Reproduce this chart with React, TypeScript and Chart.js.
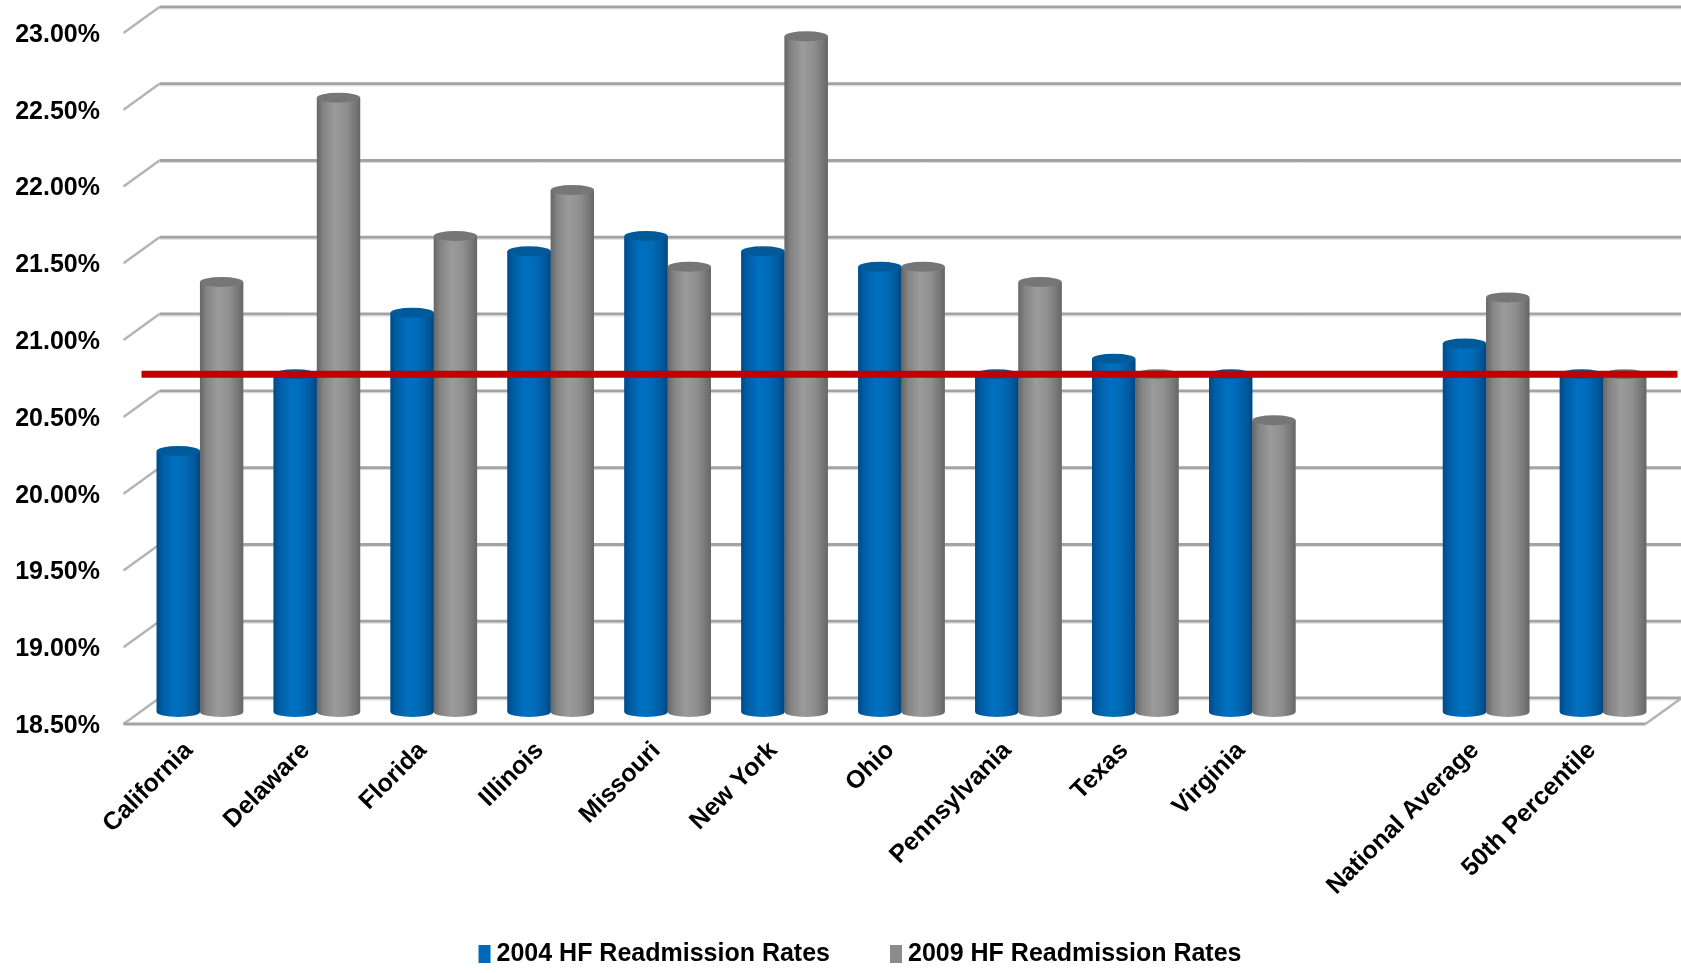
import { useEffect, useRef } from 'react';
import { Chart, registerables } from 'chart.js';

Chart.register(...registerables);

const categories = [
  'California', 'Delaware', 'Florida', 'Illinois', 'Missouri', 'New York', 'Ohio',
  'Pennsylvania', 'Texas', 'Virginia', '', 'National Average', '50th Percentile',
];
const rates2004 = [20.2, 20.7, 21.1, 21.5, 21.6, 21.5, 21.4, 20.7, 20.8, 20.7, null, 20.9, 20.7];
const rates2009 = [21.3, 22.5, 21.6, 21.9, 21.4, 22.9, 21.4, 21.3, 20.7, 20.4, null, 21.2, 20.7];
const seriesLabels = ['2004 HF Readmission Rates', '2009 HF Readmission Rates'];
const seriesColors = ['#0068b4', '#8c8c8c'];
const Y_MIN = 18.5;
const Y_MAX = 23;
const Y_STEP = 0.5;
const referenceLine = 20.7;

const FONT = '"Liberation Sans", Arial, Helvetica, sans-serif';
const W = 1681;
const H = 973;

// 3D offsets relative to the bar plane
const BACK_DX = 18;
const BACK_DY = -14;
const FRONT_DX = -18;
const FRONT_DY = 12;

const wallPlugin = {
  id: 'wall',
  beforeDatasetsDraw(chart: any) {
    const { ctx, chartArea } = chart;
    const ys = chart.scales.y;
    ctx.save();
    ys.ticks.forEach((t: any) => {
      const yb = ys.getPixelForValue(t.value) + BACK_DY;
      const yf = ys.getPixelForValue(t.value) + FRONT_DY;
      const xb = chartArea.left + BACK_DX;
      const xf = chartArea.left + FRONT_DX;
      ctx.strokeStyle = '#a3a3a3';
      ctx.lineWidth = 3;
      ctx.beginPath();
      ctx.moveTo(xb, yb);
      ctx.lineTo(W, yb);
      ctx.stroke();
      ctx.strokeStyle = '#dcdcdc';
      ctx.lineWidth = 1;
      ctx.beginPath();
      ctx.moveTo(xb, yb + 2);
      ctx.lineTo(W, yb + 2);
      ctx.stroke();
      ctx.strokeStyle = '#b4b4b4';
      ctx.lineWidth = 2.5;
      ctx.beginPath();
      ctx.moveTo(xb, yb);
      ctx.lineTo(xf, yf);
      ctx.stroke();
    });
    const base = ys.getPixelForValue(Y_MIN);
    const yb = base + BACK_DY;
    const yf = base + FRONT_DY;
    const xfl = chartArea.left + FRONT_DX;
    const xfr = chartArea.right + FRONT_DX + 2;
    const xbr = chartArea.right + BACK_DX + 2;
    ctx.strokeStyle = '#a3a3a3';
    ctx.lineWidth = 3;
    ctx.beginPath();
    ctx.moveTo(xfl, yf);
    ctx.lineTo(xfr, yf);
    ctx.stroke();
    ctx.strokeStyle = '#b4b4b4';
    ctx.lineWidth = 2.5;
    ctx.beginPath();
    ctx.moveTo(xfr, yf);
    ctx.lineTo(xbr, yb);
    ctx.stroke();
    ctx.restore();
  },
};

const gradStops: Array<Array<[number, string]>> = [
  [[0, '#004a86'], [0.12, '#005ca2'], [0.4, '#0070c0'], [0.62, '#006cb9'], [0.86, '#005a9e'], [1, '#004680']],
  [[0, '#666666'], [0.15, '#848484'], [0.42, '#9b9b9b'], [0.68, '#8f8f8f'], [0.88, '#777777'], [1, '#666666']],
];
const topColors = ['#005a99', '#767676'];

const cylinderPlugin = {
  id: 'cylinders',
  afterDatasetsDraw(chart: any) {
    const { ctx, chartArea } = chart;
    const ys = chart.scales.y;
    const bottom = ys.getPixelForValue(Y_MIN);
    ctx.save();
    chart.data.datasets.forEach((ds: any, di: number) => {
      const meta = chart.getDatasetMeta(di);
      meta.data.forEach((el: any, i: number) => {
        if (ds.data[i] == null) return;
        if (!Number.isFinite(el.y) || !Number.isFinite(el.x)) return;
        const w = el.width;
        const xl = el.x - w / 2;
        const top = el.y;
        const base = Math.min(el.base, bottom);
        const ry = 5;
        const g = ctx.createLinearGradient(xl, 0, xl + w, 0);
        gradStops[di].forEach(([o, c]) => g.addColorStop(o, c));
        ctx.fillStyle = g;
        ctx.beginPath();
        ctx.moveTo(xl, top);
        ctx.lineTo(xl, base);
        ctx.ellipse(el.x, base, w / 2, ry, 0, Math.PI, 0, true);
        ctx.lineTo(xl + w, top);
        ctx.closePath();
        ctx.fill();
        ctx.fillStyle = topColors[di];
        ctx.beginPath();
        ctx.ellipse(el.x, top, w / 2, ry, 0, 0, Math.PI * 2);
        ctx.fill();
      });
    });
    const yr = ys.getPixelForValue(referenceLine);
    ctx.strokeStyle = '#c00000';
    ctx.lineWidth = 7;
    ctx.beginPath();
    ctx.moveTo(chartArea.left, yr);
    ctx.lineTo(chartArea.right + 16, yr);
    ctx.stroke();
    ctx.restore();
  },
};

const legendPlugin = {
  id: 'customLegend',
  afterDraw(chart: any) {
    const { ctx } = chart;
    ctx.save();
    ctx.font = `bold 25px ${FONT}`;
    ctx.textBaseline = 'middle';
    ctx.textAlign = 'left';
    const boxW = 12;
    const boxH = 18;
    const gapText = 6;
    const gapItem = 60;
    const items = chart.data.datasets.map((d: any) => ({
      text: d.label as string,
      color: d.backgroundColor as string,
      w: boxW + gapText + ctx.measureText(d.label).width,
    }));
    const total = items.reduce((s: number, it: any) => s + it.w, 0) + gapItem * (items.length - 1);
    let x = 860 - total / 2;
    const cy = 954;
    items.forEach((it: any) => {
      ctx.fillStyle = it.color;
      ctx.fillRect(x, cy - boxH / 2, boxW, boxH);
      ctx.fillStyle = '#000';
      ctx.fillText(it.text, x + boxW + gapText, cy);
      x += it.w + gapItem;
    });
    ctx.restore();
  },
};

export default function App() {
  const ref = useRef<HTMLCanvasElement>(null);
  useEffect(() => {
    document.body.style.margin = '0';
    const chart = new Chart(ref.current as HTMLCanvasElement, {
      type: 'bar',
      data: {
        labels: categories,
        datasets: [
          { label: seriesLabels[0], data: rates2004 as any, backgroundColor: seriesColors[0], borderWidth: 0 },
          { label: seriesLabels[1], data: rates2009 as any, backgroundColor: seriesColors[1], borderWidth: 0 },
        ],
      },
      options: {
        responsive: false,
        animation: false,
        devicePixelRatio: 1,
        layout: { padding: { top: 21, right: 19.5, bottom: 0, left: 0 } },
        plugins: { legend: { display: false }, tooltip: { enabled: false } },
        datasets: { bar: { categoryPercentage: 0.74, barPercentage: 1 } },
        scales: {
          x: {
            grid: { display: false, drawTicks: false },
            border: { display: false },
            ticks: {
              autoSkip: false,
              minRotation: 45,
              maxRotation: 45,
              padding: 24,
              labelOffset: -11,
              color: '#000',
              font: { family: FONT, size: 25, weight: 'bold' },
            },
            afterFit: (s: any) => {
              s.height = 261;
              s.paddingLeft = 0;
              s.paddingRight = 0;
            },
          },
          y: {
            min: Y_MIN,
            max: Y_MAX,
            grid: { display: false, drawTicks: false },
            border: { display: false },
            ticks: {
              stepSize: Y_STEP,
              padding: 41.5,
              labelOffset: 14,
              color: '#000',
              font: { family: FONT, size: 25, weight: 'bold' },
              callback: (v: any) => Number(v).toFixed(2) + '%',
            },
            afterFit: (s: any) => {
              s.width = 141.5;
              s.paddingTop = 0;
              s.paddingBottom = 0;
            },
          },
        },
      } as any,
      plugins: [wallPlugin, cylinderPlugin, legendPlugin],
    });
    return () => chart.destroy();
  }, []);
  return (
    <div style={{ position: 'absolute', left: 0, top: 0, width: W, height: H, background: '#fff' }}>
      <canvas ref={ref} width={W} height={H} style={{ display: 'block', width: W, height: H }} />
    </div>
  );
}
